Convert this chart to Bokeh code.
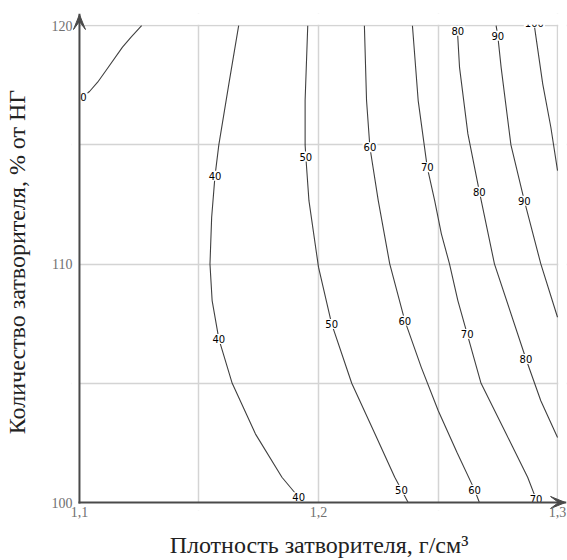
from bokeh.plotting import figure
from bokeh.models import Range1d, FixedTicker
from bokeh.core.properties import value
from bokeh.embed import file_html
from bokeh.resources import INLINE

# Iso-lines of the response surface: density of the mixing liquid (x, g/cm3)
# against amount of mixing liquid (y, % of normal consistency)
c30_x = [1.1004, 1.1017, 1.1042, 1.1076, 1.1111, 1.1180, 1.1215, 1.1260]
c30_y = [116.95, 117.05, 117.24, 117.63, 118.12, 119.10, 119.51, 120.0]

c40_x = [1.1666, 1.1625, 1.1583, 1.1567, 1.1553, 1.1546, 1.1555, 1.1583,
         1.1639, 1.1736, 1.1847, 1.1917, 1.1935]
c40_y = [120.0, 117.56, 115.0, 113.7, 111.96, 110.0, 108.47, 106.86,
         105.0, 102.88, 101.06, 100.22, 100.0]

c50_x = [1.1955, 1.1944, 1.1944, 1.1947, 1.1960, 1.2000, 1.2055, 1.2139,
         1.2236, 1.2319, 1.2347, 1.2375]
c50_y = [120.0, 116.86, 115.0, 114.5, 112.66, 109.87, 107.49, 105.0,
         102.88, 101.06, 100.53, 100.0]

c60_x = [1.2192, 1.2201, 1.2215, 1.2250, 1.2298, 1.2361, 1.2430, 1.2501,
         1.2580, 1.2653, 1.2673]
c60_y = [120.0, 116.86, 114.90, 112.66, 110.01, 107.63, 105.67, 103.85,
         102.09, 100.53, 100.0]

c70_x = [1.2393, 1.2417, 1.2455, 1.2486, 1.2514, 1.2548, 1.2583, 1.2622,
         1.2680, 1.2785, 1.2875, 1.2910, 1.2918]
c70_y = [120.0, 116.86, 114.06, 112.66, 111.27, 110.01, 108.47, 107.07,
         105.0, 102.88, 101.06, 100.15, 100.0]

c80_x = [1.2580, 1.2590, 1.2625, 1.2673, 1.2736, 1.2868, 1.2930, 1.3000]
c80_y = [120.0, 118.25, 115.46, 113.04, 110.01, 106.02, 104.27, 102.73]

c90_x = [1.2743, 1.2750, 1.2764, 1.2805, 1.2861, 1.2930, 1.3000]
c90_y = [120.0, 119.58, 118.25, 115.0, 112.66, 110.01, 107.77]

c100_x = [1.2903, 1.2910, 1.2938, 1.2972, 1.3000]
c100_y = [120.0, 119.51, 117.56, 115.74, 113.92]

contours = [(c30_x, c30_y), (c40_x, c40_y), (c50_x, c50_y), (c60_x, c60_y),
            (c70_x, c70_y), (c80_x, c80_y), (c90_x, c90_y), (c100_x, c100_y)]

# Inline level labels
label_x = [1.10035, 1.1567, 1.1583, 1.1917, 1.1947, 1.2055, 1.2347,
           1.2215, 1.2361, 1.2653, 1.2455, 1.2622, 1.2910,
           1.2583, 1.2673, 1.2868, 1.2750, 1.2861, 1.2903]
label_y = [116.99, 113.71, 106.86, 100.22, 114.51, 107.49, 100.53,
           114.90, 107.63, 100.53, 114.06, 107.07, 100.15,
           119.79, 113.04, 106.02, 119.58, 112.66, 120.12]
label_text = ["30", "40", "40", "40", "50", "50", "50",
              "60", "60", "60", "70", "70", "70",
              "80", "80", "80", "90", "90", "100"]

x_min, x_max = 1.1, 1.3
y_min, y_max = 100, 120
x_ticks = [1.1, 1.2, 1.3]
x_tick_labels = ["1,1", "1,2", "1,3"]
y_ticks = [100, 110, 120]
x_grid = [1.15, 1.2, 1.25, 1.3]
y_grid = [105, 110, 115, 120]

# Page layout (pixels); the frame is a bit larger than the data area so
# that the axis arrows can be drawn inside it
W, H = 567, 560
border_left, border_right, border_top, border_bottom = 69, 1, 13, 50
frame_w = W - border_left - border_right
frame_h = H - border_top - border_bottom
margin_px = 8
px_per_x = 2400.0
px_per_y = 23.84
x_view = (x_min - margin_px / px_per_x, x_min - margin_px / px_per_x + frame_w / px_per_x)
y_view = (y_min - margin_px / px_per_y, y_min - margin_px / px_per_y + frame_h / px_per_y)

p = figure(width=W, height=H, output_backend="svg", toolbar_location=None,
           x_range=Range1d(*x_view), y_range=Range1d(*y_view),
           min_border_left=border_left, min_border_right=border_right,
           min_border_top=border_top, min_border_bottom=border_bottom)
p.outline_line_color = None
p.background_fill_color = "white"
p.border_fill_color = "white"

grid_color = "#d4d4d4"
p.xgrid.ticker = FixedTicker(ticks=x_grid)
p.ygrid.ticker = FixedTicker(ticks=y_grid)
for g in (p.xgrid, p.ygrid):
    g.grid_line_color = grid_color
    g.grid_line_width = 1.5

p.xaxis.ticker = FixedTicker(ticks=x_ticks)
p.xaxis.major_label_overrides = {t: s for t, s in zip(x_ticks, x_tick_labels)}
p.yaxis.ticker = FixedTicker(ticks=y_ticks)

for ax in (p.xaxis, p.yaxis):
    ax.axis_line_color = None
    ax.major_tick_line_color = None
    ax.minor_tick_line_color = None
    ax.major_tick_out = 0
    ax.major_tick_in = 0
    ax.major_label_text_font = "Liberation Serif"
    ax.major_label_text_font_size = "14px"
    ax.major_label_text_color = "#707070"
    ax.axis_label_text_font = "Liberation Serif"
    ax.axis_label_text_font_size = "24px"
    ax.axis_label_text_font_style = "normal"
    ax.axis_label_text_color = "#222222"

p.xaxis.major_label_standoff = 4 - margin_px
p.yaxis.major_label_standoff = 7 - margin_px
p.xaxis.axis_label = "Плотность затворителя, г/см³"
p.yaxis.axis_label = "Количество затворителя, % от НГ"
p.xaxis.axis_label_standoff = 12
p.yaxis.axis_label_standoff = 19

for cx, cy in contours:
    p.line(cx, cy, line_color="#404040", line_width=1.1)

p.text(x=label_x, y=label_y, text=label_text,
       text_font=value("DejaVu Sans"), text_font_size="10px",
       text_color="black", text_align="center", text_baseline="middle",
       background_fill_color="white", padding=1)

# Blank margins around the data area
p.quad(left=[x_view[0], x_view[0], x_max + 0.0003, x_view[0]],
       right=[x_min, x_view[1], x_view[1], x_view[1]],
       bottom=[y_view[0], y_max + 0.04, y_view[0], y_view[0]],
       top=[y_view[1], y_view[1], y_view[1], y_min],
       fill_color="white", line_color=None)

# Axes with arrowheads
axis_color = "#4a4a4a"
tip_x = x_view[1] - 1 / px_per_x
tip_y = y_view[1] - 1 / px_per_y
p.segment(x0=[x_min, x_min], y0=[y_min, y_min], x1=[x_min, tip_x], y1=[tip_y, y_min],
          line_color=axis_color, line_width=2, line_cap="square")

head_len, head_half, head_notch = 15, 6, 7
up_head_x = [x_min, x_min + head_half / px_per_x, x_min, x_min - head_half / px_per_x]
up_head_y = [tip_y, tip_y - head_len / px_per_y, tip_y - head_notch / px_per_y,
             tip_y - head_len / px_per_y]
right_head_x = [tip_x, tip_x - head_len / px_per_x, tip_x - head_notch / px_per_x,
                tip_x - head_len / px_per_x]
right_head_y = [y_min, y_min + head_half / px_per_y, y_min, y_min - head_half / px_per_y]
p.patches(xs=[up_head_x, right_head_x], ys=[up_head_y, right_head_y],
          fill_color=axis_color, line_color=axis_color, line_width=1)

open("out.html", "w").write(file_html(p, INLINE))
